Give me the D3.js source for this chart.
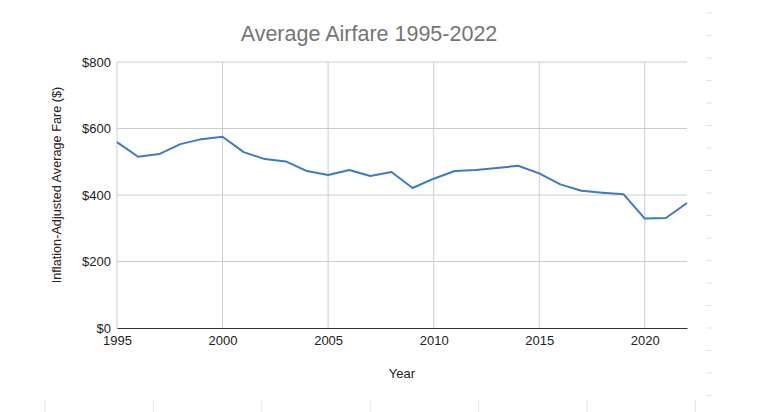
<!DOCTYPE html>
<html>
<head>
<meta charset="utf-8">
<script src="https://cdn.jsdelivr.net/npm/d3@7"></script>
<style>
  body { margin: 0; background: #fff; }
  svg { display: block; font-family: "Liberation Sans", Arial, sans-serif; }
</style>
</head>
<body>
<svg id="chart" width="760" height="412"></svg>
<script>
// values
var years = [1995, 1996, 1997, 1998, 1999, 2000, 2001, 2002, 2003, 2004,
             2005, 2006, 2007, 2008, 2009, 2010, 2011, 2012, 2013, 2014,
             2015, 2016, 2017, 2018, 2019, 2020, 2021, 2022];
var fares = [559, 515, 523, 553, 568, 575, 529, 508, 501, 472,
             460, 475, 457, 469, 421, 449, 472, 475, 481, 488,
             465, 432, 413, 407, 402, 329, 331, 376];
var yTicks = [0, 200, 400, 600, 800];
var xTicks = [1995, 2000, 2005, 2010, 2015, 2020];

var svg = d3.select("#chart"),
    width = +svg.attr("width"),
    height = +svg.attr("height"),
    margin = {top: 62, right: 73, bottom: 84, left: 117};

var x = d3.scaleLinear()
    .domain([1995, 2022])
    .range([margin.left, width - margin.right]);

var y = d3.scaleLinear()
    .domain([0, 800])
    .range([height - margin.bottom, margin.top]);

// faint sheet artifacts around the edges
var rightDashes = d3.range(0, 18);
svg.append("g")
    .selectAll("line")
    .data(rightDashes)
    .enter().append("line")
    .attr("x1", 706).attr("x2", 712)
    .attr("y1", function(d) { return 13 + d * 22.5; })
    .attr("y2", function(d) { return 13 + d * 22.5; })
    .style("stroke", "#e2e2e2");

var bottomTicks = d3.range(0, 7);
svg.append("g")
    .selectAll("line")
    .data(bottomTicks)
    .enter().append("line")
    .attr("x1", function(d) { return 45 + d * 108.4; })
    .attr("x2", function(d) { return 45 + d * 108.4; })
    .attr("y1", 400).attr("y2", 412)
    .style("stroke", "#e4e4e4");

// grid
svg.append("g")
    .selectAll("line")
    .data(yTicks.slice(1))
    .enter().append("line")
    .attr("x1", x(1995)).attr("x2", x(2022))
    .attr("y1", function(d) { return y(d); })
    .attr("y2", function(d) { return y(d); })
    .style("stroke", "#cccccc");

svg.append("g")
    .selectAll("line")
    .data(xTicks)
    .enter().append("line")
    .attr("x1", function(d) { return x(d); })
    .attr("x2", function(d) { return x(d); })
    .attr("y1", y(800)).attr("y2", y(0))
    .style("stroke", "#cccccc");

// y axis labels
var yAxis = d3.axisLeft(y)
    .tickValues(yTicks)
    .tickSize(0)
    .tickPadding(6)
    .tickFormat(function(d) { return "$" + d; });

svg.append("g")
    .attr("transform", "translate(" + margin.left + ",0)")
    .call(yAxis)
    .call(function(g) { g.select(".domain").remove(); })
    .selectAll("text")
    .style("font-size", "13px")
    .style("fill", "#222");

// x axis
var xAxis = d3.axisBottom(x)
    .tickValues(xTicks)
    .tickSize(0)
    .tickPadding(8)
    .tickFormat(d3.format("d"));

svg.append("g")
    .attr("transform", "translate(0," + y(0) + ")")
    .call(xAxis)
    .call(function(g) {
        g.select(".domain").style("stroke", "#333").style("stroke-width", 1.2);
    })
    .selectAll("text")
    .style("font-size", "13px")
    .style("fill", "#222");

// line
var line = d3.line()
    .x(function(d, i) { return x(years[i]); })
    .y(function(d) { return y(d); });

svg.append("path")
    .datum(fares)
    .attr("d", line)
    .style("fill", "none")
    .style("stroke", "#3d79c7")
    .style("stroke-width", 2)
    .style("stroke-linejoin", "round");

// titles
svg.append("text")
    .attr("x", 369).attr("y", 41)
    .attr("text-anchor", "middle")
    .style("font-size", "21.5px")
    .style("fill", "#757575")
    .text("Average Airfare 1995-2022");

svg.append("text")
    .attr("x", 402).attr("y", 378)
    .attr("text-anchor", "middle")
    .style("font-size", "13px")
    .style("fill", "#222")
    .text("Year");

svg.append("text")
    .attr("transform", "translate(61,185) rotate(-90)")
    .attr("text-anchor", "middle")
    .style("font-size", "12.7px")
    .style("fill", "#222")
    .text("Inflation-Adjusted Average Fare ($)");
</script>
</body>
</html>
